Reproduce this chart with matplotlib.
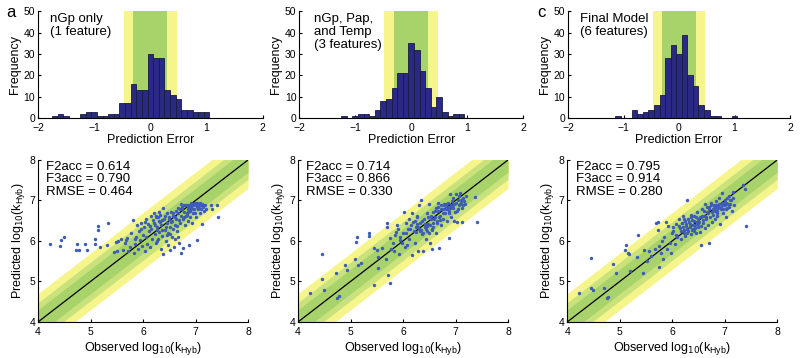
import numpy as np
import matplotlib
matplotlib.use("Agg")
import matplotlib.pyplot as plt

plt.rcParams['font.family'] = ['Liberation Sans', 'DejaVu Sans']

# histogram data: bin centres (width 0.1) and counts
hist_a_centers = [-1.7, -1.6, -1.5, -1.2, -1.1, -1.0, -0.9, -0.8, -0.7, -0.6, -0.5, -0.4, -0.3,
                  -0.2, -0.1, 0.0, 0.1, 0.2, 0.3, 0.4, 0.5, 0.6, 0.7, 0.8, 0.9, 1.0]
hist_a_counts = [1, 2, 1, 2, 3, 3, 1, 1, 2, 2, 7, 7, 16, 13, 13, 30, 28, 28, 13, 11, 9, 4, 4, 3, 3, 3]

hist_b_centers = [-1.2, -1.0, -0.9, -0.8, -0.7, -0.6, -0.5, -0.4, -0.3, -0.2, -0.1, 0.0, 0.1,
                  0.2, 0.3, 0.4, 0.5, 0.6, 0.7, 0.8, 0.9]
hist_b_counts = [1, 1, 2, 2, 1, 4, 8, 9, 14, 21, 21, 35, 32, 22, 14, 5, 10, 3, 1, 2, 2]

hist_c_centers = [-1.1, -0.8, -0.7, -0.6, -0.5, -0.4, -0.3, -0.2, -0.1, 0.0, 0.1, 0.2, 0.3,
                  0.4, 0.5, 0.6, 0.7, 1.0]
hist_c_counts = [1, 4, 2, 3, 4, 6, 11, 28, 34, 30, 39, 20, 15, 6, 4, 1, 1, 1]

# scatter data: observed vs predicted log10(kHyb)
obs_a = [4.22, 4.42, 4.44, 4.50, 4.73, 4.74, 4.78, 4.90, 4.93, 5.08, 5.09, 5.14, 5.15, 5.19, 5.33, 5.32,
         5.45, 5.48, 5.52, 5.50, 5.58, 5.62, 5.65, 5.70, 5.72, 5.75, 5.78, 5.80, 5.82, 5.84, 5.85, 5.88,
         5.90, 5.92, 5.95, 5.97, 5.98, 6.00, 6.02, 6.03, 6.05, 6.06, 6.08, 6.10, 6.12, 6.13, 6.15, 6.16,
         6.18, 6.20, 6.21, 6.22, 6.24, 6.25, 6.27, 6.28, 6.30, 6.31, 6.33, 6.34, 6.35, 6.37, 6.38, 6.39,
         6.40, 6.42, 6.43, 6.45, 6.46, 6.47, 6.48, 6.50, 6.51, 6.52, 6.53, 6.55, 6.56, 6.58, 6.59, 6.60,
         6.62, 6.63, 6.65, 6.66, 6.68, 6.70, 6.71, 6.72, 6.73, 6.75, 6.76, 6.77, 6.78, 6.80, 6.82, 6.83,
         6.85, 6.86, 6.87, 6.88, 6.89, 6.90, 6.91, 6.92, 6.93, 6.95, 6.96, 6.97, 6.98, 7.00, 7.01, 7.02,
         7.03, 7.05, 7.06, 7.08, 7.10, 7.12, 7.13, 7.15, 7.18, 7.20, 7.02, 7.30, 7.32, 7.40, 7.42,
         6.14, 6.19, 6.23, 6.26, 6.29, 6.32, 6.36, 6.41, 6.44, 6.49, 6.54, 6.57, 6.61, 6.64, 6.67, 6.69,
         6.74, 6.79, 6.81, 6.84, 6.86, 6.88, 6.90, 6.92, 6.94, 6.96, 6.99, 7.04, 7.07, 7.09, 7.11, 7.14,
         7.16, 6.45, 6.52, 6.58, 6.66, 6.72, 6.78, 6.84, 6.24, 6.30, 6.36, 6.04, 5.96, 5.68, 5.86, 6.26,
         6.61, 6.99]
pred_a = [5.92, 5.88, 6.03, 6.09, 5.78, 5.92, 5.77, 5.92, 5.78, 6.05, 5.93, 6.38, 6.28, 5.84, 6.44, 5.90,
          5.72, 5.98, 6.00, 5.76, 6.05, 5.78, 5.95, 6.08, 5.76, 5.85, 6.20, 6.53, 5.70, 5.92, 6.05, 6.40,
          5.80, 6.25, 6.02, 6.45, 5.88, 6.15, 6.35, 5.75, 6.55, 6.10, 5.92, 6.42, 6.25, 5.85, 6.62, 6.30,
          6.05, 6.70, 6.45, 6.18, 5.95, 6.58, 6.35, 6.05, 6.50, 6.22, 6.65, 5.80, 6.40, 6.12, 6.82, 5.68,
          6.55, 6.28, 6.00, 6.68, 6.45, 6.20, 5.90, 6.60, 6.35, 5.78, 6.72, 6.50, 6.10, 6.62, 5.85, 6.40,
          6.75, 6.55, 6.25, 6.68, 5.95, 6.80, 6.45, 5.70, 6.62, 6.85, 5.82, 6.55, 6.72, 6.40, 6.88, 6.65,
          6.80, 6.50, 5.90, 6.90, 6.75, 6.60, 6.92, 6.85, 6.45, 6.88, 6.70, 6.92, 6.80, 6.90, 6.60, 6.85,
          6.95, 6.78, 6.90, 6.70, 6.88, 6.42, 6.92, 6.85, 6.90, 6.80, 6.02, 6.88, 6.78, 6.88, 6.60,
          6.38, 6.52, 6.40, 6.28, 6.60, 6.46, 6.52, 6.62, 6.35, 6.55, 6.48, 6.70, 6.58, 6.38, 6.82, 6.52,
          6.78, 6.88, 6.62, 6.90, 6.72, 6.84, 6.80, 6.95, 6.88, 6.80, 6.95, 6.92, 6.82, 6.95, 6.80, 6.90,
          6.75, 6.15, 6.18, 6.30, 6.10, 6.92, 6.58, 6.68, 6.62, 6.72, 6.28, 6.48, 6.30, 6.02, 6.10, 6.00,
          6.05, 6.70]

obs_b = [4.22, 4.45, 4.46, 4.50, 4.72, 4.75, 4.78, 4.90, 4.93, 5.08, 5.10, 5.12, 5.15, 5.20, 5.35, 5.35,
         5.45, 5.45, 5.50, 5.52, 5.52, 5.60, 5.68, 5.70, 5.70, 5.72, 5.75, 5.75, 5.78, 5.80, 5.82, 5.85,
         5.88, 5.90, 5.92, 5.95, 5.98, 6.00, 6.02, 6.03, 6.05, 6.07, 6.10, 6.12, 6.12, 6.15, 6.17, 6.18,
         6.20, 6.22, 6.23, 6.25, 6.27, 6.28, 6.30, 6.31, 6.33, 6.35, 6.36, 6.38, 6.40, 6.41, 6.43, 6.45,
         6.46, 6.48, 6.50, 6.51, 6.53, 6.55, 6.55, 6.57, 6.58, 6.60, 6.62, 6.63, 6.65, 6.67, 6.68, 6.70,
         6.72, 6.73, 6.75, 6.76, 6.78, 6.80, 6.81, 6.83, 6.85, 6.86, 6.87, 6.88, 6.90, 6.91, 6.92, 6.93,
         6.95, 6.96, 6.97, 6.98, 7.00, 7.02, 7.03, 7.05, 7.07, 7.08, 7.10, 7.12, 7.13, 7.15, 7.18, 7.20,
         7.38, 7.40,
         6.14, 6.19, 6.24, 6.26, 6.29, 6.34, 6.37, 6.39, 6.42, 6.44, 6.47, 6.49, 6.52, 6.54, 6.56, 6.59,
         6.61, 6.64, 6.66, 6.69, 6.71, 6.74, 6.77, 6.79, 6.82, 6.84, 6.89, 6.94, 6.99, 7.01, 7.04, 7.06,
         7.09, 7.11, 7.14, 7.16, 6.79, 6.84, 6.88, 6.92, 6.27, 6.33, 6.46, 6.58, 5.86, 5.94, 6.06, 6.66,
         6.72, 6.96]
pred_b = [4.72, 5.05, 5.67, 4.78, 5.22, 4.58, 4.65, 5.40, 5.28, 5.55, 5.98, 6.10, 5.40, 5.45, 6.20, 6.12,
          4.92, 5.82, 5.78, 5.60, 5.33, 5.82, 5.55, 6.45, 6.35, 5.17, 4.96, 6.08, 5.80, 5.95, 5.75, 6.15,
          6.40, 6.30, 5.68, 6.02, 5.95, 6.20, 6.72, 5.85, 6.45, 5.90, 6.30, 6.55, 6.05, 6.40, 6.68, 5.65,
          6.25, 6.50, 5.95, 6.35, 6.62, 5.75, 6.88, 6.30, 6.45, 7.00, 6.18, 5.75, 6.55, 6.35, 6.05, 6.68,
          6.25, 6.42, 6.92, 5.95, 6.55, 5.80, 6.30, 6.72, 6.45, 6.60, 6.20, 6.82, 6.50, 6.75, 5.82, 6.62,
          6.88, 6.40, 6.78, 6.55, 6.92, 6.70, 6.82, 6.50, 6.85, 6.95, 6.08, 6.75, 7.15, 6.60, 6.88, 6.98,
          6.82, 7.05, 6.50, 6.92, 7.15, 6.75, 6.48, 7.00, 6.88, 7.18, 6.95, 6.48, 6.82, 7.05, 6.92, 7.10,
          7.08, 6.48,
          6.30, 6.48, 6.22, 6.60, 6.35, 6.28, 6.50, 6.20, 6.42, 6.30, 6.58, 6.20, 6.40, 6.62, 6.28, 6.55,
          6.75, 6.45, 6.85, 6.60, 6.52, 6.80, 6.70, 6.88, 6.92, 6.78, 6.82, 6.90, 6.72, 6.95, 6.80, 7.10,
          6.92, 7.00, 6.88, 6.98, 6.78, 6.80, 6.70, 6.85, 6.42, 6.25, 6.38, 6.35, 6.22, 6.10, 6.20, 6.95,
          6.78, 6.88]

obs_c = [4.22, 4.45, 4.46, 4.50, 4.70, 4.75, 4.78, 4.88, 4.93, 5.10, 5.12, 5.15, 5.18, 5.20, 5.33, 5.35,
         5.45, 5.47, 5.52, 5.55, 5.60, 5.68, 5.70, 5.72, 5.72, 5.75, 5.75, 5.78, 5.80, 5.82, 5.85, 5.88,
         5.90, 5.92, 5.95, 5.98, 6.00, 6.02, 6.05, 6.08, 6.10, 6.12, 6.15, 6.17, 6.18, 6.20, 6.22, 6.24,
         6.25, 6.27, 6.28, 6.30, 6.31, 6.33, 6.35, 6.36, 6.38, 6.40, 6.42, 6.43, 6.45, 6.47, 6.48, 6.50,
         6.52, 6.53, 6.55, 6.56, 6.58, 6.60, 6.62, 6.63, 6.65, 6.67, 6.68, 6.70, 6.70, 6.72, 6.74, 6.75,
         6.77, 6.78, 6.80, 6.82, 6.83, 6.85, 6.86, 6.88, 6.90, 6.91, 6.92, 6.94, 6.95, 6.97, 6.98, 7.00,
         7.02, 7.03, 7.05, 7.08, 7.10, 7.12, 7.13, 7.15, 7.18, 7.35, 7.38, 7.40, 7.15,
         6.13, 6.16, 6.19, 6.21, 6.23, 6.26, 6.29, 6.32, 6.34, 6.37, 6.39, 6.41, 6.44, 6.46, 6.49, 6.51,
         6.54, 6.57, 6.59, 6.61, 6.64, 6.66, 6.69, 6.71, 6.73, 6.76, 6.79, 6.81, 6.84, 6.87, 6.89, 6.93,
         6.96, 6.99, 7.01, 7.04, 7.06, 7.09, 7.11, 6.22, 6.28, 6.35, 6.42, 6.50, 6.81, 6.86, 6.95, 7.03,
         6.02, 6.07]
pred_c = [4.72, 4.83, 5.58, 4.80, 4.84, 4.58, 4.62, 5.42, 5.22, 5.78, 5.90, 5.70, 5.68, 5.27, 5.60, 6.16,
          5.22, 5.78, 5.50, 5.75, 5.62, 5.80, 6.45, 6.48, 6.28, 5.35, 5.88, 5.70, 6.00, 5.55, 6.10, 6.48,
          5.80, 6.38, 5.95, 5.70, 6.20, 6.35, 5.92, 6.42, 6.10, 6.55, 6.32, 6.05, 6.45, 6.62, 6.28, 6.50,
          6.12, 6.38, 7.00, 6.55, 6.25, 6.42, 6.65, 6.18, 6.52, 6.30, 6.62, 6.40, 6.20, 6.72, 6.48, 6.35,
          6.58, 6.22, 5.90, 6.80, 6.45, 6.62, 6.32, 6.92, 6.55, 6.72, 6.40, 5.95, 6.85, 6.60, 6.95, 6.48,
          6.78, 6.65, 6.88, 6.55, 6.98, 6.75, 6.62, 6.85, 7.05, 6.42, 6.78, 6.95, 7.18, 6.70, 6.88, 7.02,
          6.58, 6.95, 6.82, 7.10, 6.92, 7.00, 6.75, 7.05, 6.88, 7.38, 7.28, 6.37, 7.20,
          6.38, 6.25, 6.45, 6.35, 6.20, 6.42, 6.30, 6.48, 6.35, 6.28, 6.40, 6.50, 6.32, 6.58, 6.42, 6.48,
          6.38, 6.62, 6.52, 6.75, 6.60, 6.85, 6.70, 6.78, 6.88, 6.72, 6.82, 6.75, 6.90, 6.82, 6.92, 6.85,
          6.80, 6.95, 6.88, 7.05, 6.92, 6.85, 7.02, 6.55, 6.20, 6.58, 6.25, 6.55, 6.82, 6.70, 6.92, 6.80,
          6.25, 6.15]

hist_titles = ["nGp only\n(1 feature)", "nGp, Pap,\nand Temp\n(3 features)", "Final Model\n(6 features)"]
stats_text = ["F2acc = 0.614\nF3acc = 0.790\nRMSE = 0.464",
              "F2acc = 0.714\nF3acc = 0.866\nRMSE = 0.330",
              "F2acc = 0.795\nF3acc = 0.914\nRMSE = 0.280"]
panel_letters = ["a", "", "c"]

GREEN = '#a8d26a'
LIGHTGREEN = '#c9e27c'
YELLOW = '#f6f58c'
NAVY = '#2a2a86'
DOT = '#3d5cb8'
f2 = np.log10(2)
f3 = np.log10(3)
outer = 0.7

fig = plt.figure(figsize=(8, 3.58), dpi=100)

hist_pos = [[0.0475, 0.670, 0.281, 0.299], [0.374, 0.670, 0.28, 0.299], [0.71, 0.670, 0.2775, 0.299]]
scat_pos = [[0.0475, 0.1006, 0.2625, 0.4525], [0.3725, 0.1006, 0.2625, 0.4525], [0.709, 0.1006, 0.2625, 0.4525]]
title_x = [0.055, 0.065, 0.055]
letter_x = [0.008, 0, 0.671]

hists = [(hist_a_centers, hist_a_counts), (hist_b_centers, hist_b_counts), (hist_c_centers, hist_c_counts)]
scats = [(obs_a, pred_a), (obs_b, pred_b), (obs_c, pred_c)]

for i in range(3):
    # top: histogram of prediction error
    ax = fig.add_axes(hist_pos[i])
    ax.axvspan(-f3, f3, color=YELLOW, lw=0, zorder=0)
    ax.axvspan(-f2, f2, color=GREEN, lw=0, zorder=0)
    c, n = hists[i]
    ax.bar(c, n, width=0.1, color=NAVY, edgecolor='#1a1a40', linewidth=0.6, zorder=2)
    ax.set_xlim(-2, 2)
    ax.set_ylim(0, 50)
    ax.set_xticks([-2, -1, 0, 1, 2])
    ax.set_yticks([0, 10, 20, 30, 40, 50])
    ax.set_xlabel('Prediction Error', fontsize=9, labelpad=1)
    ax.set_ylabel('Frequency', fontsize=9, labelpad=2)
    ax.tick_params(labelsize=7.5, direction='in', length=2.5, pad=2)
    ax.tick_params(axis='x', pad=3.5)
    ax.spines['top'].set_visible(False)
    ax.spines['right'].set_visible(False)
    ax.text(title_x[i], 0.98, hist_titles[i], transform=ax.transAxes, fontsize=9.5,
            va='top', ha='left', linespacing=1.1)
    if panel_letters[i]:
        fig.text(letter_x[i], 0.985, panel_letters[i], fontsize=12, va='top')

    # bottom: predicted vs observed
    ax2 = fig.add_axes(scat_pos[i])
    xs = np.array([4, 8])
    ax2.fill_between(xs, xs - outer, xs + outer, color=YELLOW, lw=0, zorder=0)
    ax2.fill_between(xs, xs - f3, xs + f3, color=LIGHTGREEN, lw=0, zorder=0)
    ax2.fill_between(xs, xs - f2, xs + f2, color=GREEN, lw=0, zorder=0)
    ax2.plot(xs, xs, color='black', lw=0.9, zorder=2)
    o, p = scats[i]
    ax2.scatter(o, p, s=6, color=DOT, lw=0, zorder=3)
    ax2.set_xlim(4, 8)
    ax2.set_ylim(4, 8)
    ax2.set_xticks([4, 5, 6, 7, 8])
    ax2.set_yticks([4, 5, 6, 7, 8])
    ax2.set_xlabel(r'Observed log$_{10}$(k$_{\mathregular{Hyb}}$)', fontsize=9, labelpad=2)
    ax2.set_ylabel(r'Predicted log$_{10}$(k$_{\mathregular{Hyb}}$)', fontsize=9, labelpad=2)
    ax2.tick_params(labelsize=7.5, direction='in', length=2.5, pad=2)
    ax2.tick_params(axis='x', pad=3.5)
    ax2.spines['top'].set_visible(False)
    ax2.spines['right'].set_visible(False)
    ax2.text(0.04, 0.995, stats_text[i], transform=ax2.transAxes, fontsize=9.5,
             va='top', ha='left', linespacing=1.05)

fig.savefig('out.png', dpi=100)
